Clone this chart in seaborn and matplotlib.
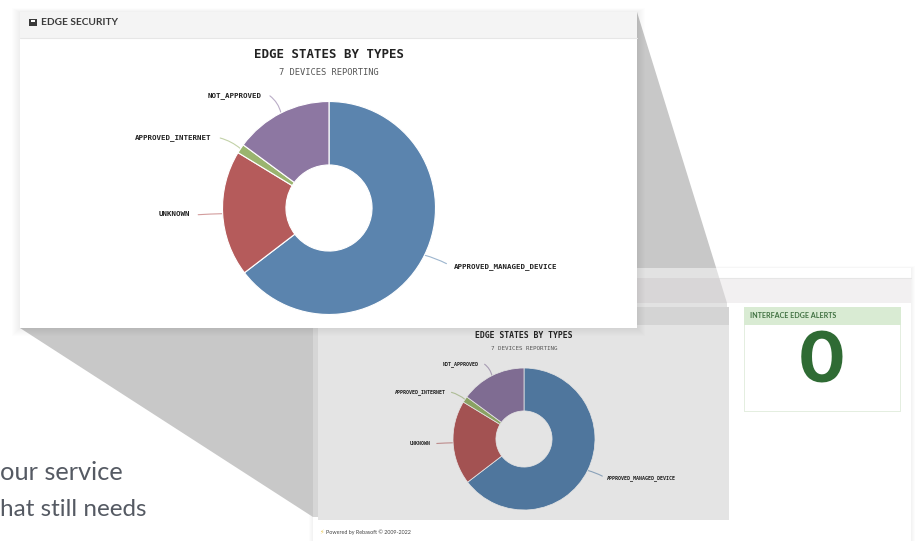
import matplotlib
matplotlib.use('Agg')
import numpy as np
import matplotlib.pyplot as plt
from matplotlib.patches import Rectangle, Polygon
import seaborn as sns

states = ['APPROVED_MANAGED_DEVICE', 'UNKNOWN', 'APPROVED_INTERNET', 'NOT_APPROVED']
shares = [64.6, 19.1, 1.4, 14.9]
colors_big = ['#5b84ae', '#b55b5b', '#9ab46f', '#8d77a2']
colors_small = ['#4f769d', '#a35252', '#8aa263', '#7f6c92']
chart_title = 'EDGE STATES BY TYPES'
chart_subtitle = '7 DEVICES REPORTING'

sns.set_theme(style='white')
plt.rcParams['font.family'] = ['Lato', 'DejaVu Sans']
W, H = 920, 541
MONO = 'DejaVu Sans Mono'

fig = plt.figure(figsize=(W / 100, H / 100), dpi=100)
bg = fig.add_axes([0, 0, 1, 1])
bg.set_xlim(0, W)
bg.set_ylim(H, 0)
bg.axis('off')
bg.set_zorder(1)


def box(x0, y0, x1, y1, color, z=1, **kw):
    bg.add_patch(Rectangle((x0, y0), x1 - x0, y1 - y0, facecolor=color, edgecolor='none', zorder=z, **kw))


def shadow(x0, y0, x1, y1, z, spread=8, alpha=0.006):
    for i in range(spread, 0, -1):
        box(x0 - i, y0 - i * 0.5, x1 + i, y1 + i, 'black', z=z, alpha=alpha)


def wedge_x(y):
    # right edge of the zoom wedge at height y
    return 637 + (727 - 637) * (y - 12) / (303 - 12)


def wedge_band(y0, y1, color):
    bg.add_patch(Polygon([(637, y0), (wedge_x(y0), y0), (wedge_x(y1), y1), (637, y1)],
                         facecolor=color, edgecolor='none', zorder=4))


def donut(center, radius, hole, colors, title, sub, bg_col, sizes, title_y):
    # sizes: title, subtitle, label font sizes in points
    cx, cy = center
    ax = fig.add_axes([(cx - radius) / W, 1 - (cy + radius) / H, 2 * radius / W, 2 * radius / H], zorder=5)
    ax.patch.set_alpha(0)
    wedges, _ = ax.pie(shares, colors=sns.color_palette(colors), startangle=90, counterclock=False, radius=1,
                       wedgeprops=dict(width=1 - hole, edgecolor=bg_col, linewidth=radius / 130))
    ax.set_xlim(-1, 1)
    ax.set_ylim(-1, 1)
    ax.axis('off')
    for w, name in zip(wedges, states):
        a = np.radians((w.theta1 + w.theta2) / 2)
        px, py = cx + radius * np.cos(a), cy - radius * np.sin(a)
        ex, ey = cx + 1.23 * radius * np.cos(a), cy - 1.18 * radius * np.sin(a)
        right = np.cos(a) > 0
        # leader from the wedge edge, bending out to the label
        bend = (0.12 if right else -0.2) * abs(np.sin(a))
        bg.annotate('', xy=(px, py), xytext=(ex, ey), zorder=6, annotation_clip=False,
                    arrowprops=dict(arrowstyle='-', color=w.get_facecolor(), lw=0.8, alpha=0.6,
                                    shrinkA=0, shrinkB=0, connectionstyle=f'arc3,rad={bend}'))
        gap = radius * (0.065 if right else 0.08)
        bg.text(ex + gap if right else ex - gap, ey + radius * (0.025 if right else -0.005), name,
                ha='left' if right else 'right', va='center', family=MONO, weight='bold',
                fontsize=sizes[2], color='#222222', zorder=6)
    bg.text(cx, title_y, title, ha='center', va='center', family=MONO, weight='bold',
            fontsize=sizes[0], color='#222222', zorder=6)
    bg.text(cx, title_y + radius * 0.175, sub, ha='center', va='center', family=MONO,
            fontsize=sizes[1], color='#555555', zorder=6)


# back page
shadow(313, 268, 911, 541, 1, spread=4, alpha=0.012)
box(313, 268, 911, 541, 'white', z=2)
box(313, 278, 911, 303, '#f2f0f1', z=2)
bg.plot([313, 911], [278, 278], color='#e6e6e6', lw=0.8, zorder=3)

# dimmed panel
box(313, 328, 318, 517, '#d6d6d6', z=3)
box(318, 307, 729, 520, '#e4e4e4', z=3)
box(318, 307, 729, 325, '#d4d4d4', z=3)
bg.text(319, 532, '⚡', fontsize=4.5, color='#e8c95a', ha='left', va='center', family='DejaVu Sans', zorder=3)
bg.text(326, 532, 'Powered by Rebasoft © 2009-2022', fontsize=3.9, color='#444444', ha='left', va='center', zorder=3)

# alerts card
box(744, 307, 901, 412, '#e4eee0', z=3)
box(745, 308, 900, 411, 'white', z=3)
box(744, 307, 901, 325, '#d9ebd3', z=3)
bg.text(750, 315, 'INTERFACE EDGE ALERTS', fontsize=5.1, weight='bold', color='#3f7040', ha='left', va='center', zorder=4)
bg.text(822, 364, '0', fontsize=51, weight='bold', color='#2f6b34', ha='center', va='center',
        family='Inter', zorder=4)

# zoom wedges linking the big card to the panel
bg.add_patch(Polygon([(20, 328), (313, 517), (313, 328)], facecolor='#c8c8c8', edgecolor='none', zorder=4))
wedge_band(12, 268, '#c8c8c8')
wedge_band(268, 278, '#e2e2e2')
wedge_band(278, 303, '#d8d6d7')
box(637, 303, 727, 307, '#e2e2e2', z=4)

# left over copy behind the zoom
bg.text(0, 473, 'our service', fontsize=18.3, color='#555a63', ha='left', va='center', family='Lato', zorder=1)
bg.text(0, 509, 'hat still needs', fontsize=17.5, color='#555a63', ha='left', va='center', family='Lato', zorder=1)

donut((524, 439), 71, 0.395, colors_small, chart_title, chart_subtitle, '#e4e4e4', (5.9, 4.2, 3.6), 336)

# big card on top
shadow(20, 12, 637, 328, 4.2)
box(20, 12, 637, 328, 'white', z=4.5)
box(20, 12, 637, 38, '#f4f4f4', z=4.6)
bg.plot([20, 637], [38, 38], color='#e6e6e6', lw=0.8, zorder=4.7)
bg.text(41, 22.5, 'EDGE SECURITY', fontsize=7.3, weight='bold', color='#3a3a3a', ha='left', va='center', zorder=4.7)
box(29.5, 18.5, 37, 26, '#3a3a3a', z=4.7)
box(31, 20, 35.5, 21.8, 'white', z=4.8)

donut((329, 208), 106.5, 0.404, colors_big, chart_title, chart_subtitle, 'white', (8.9, 6.3, 5.4), 54)

fig.savefig('out.png', dpi=100)
